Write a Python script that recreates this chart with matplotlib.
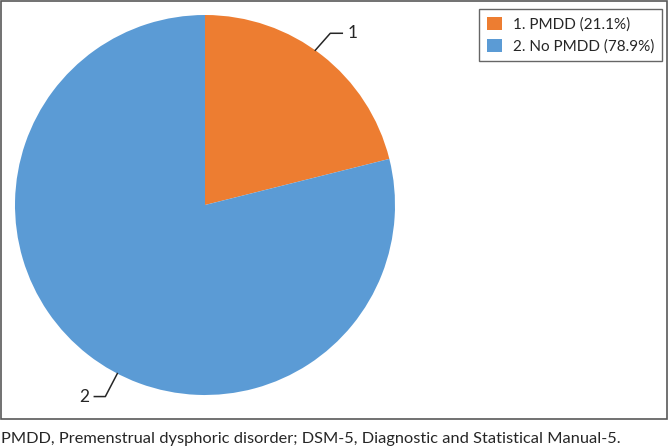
import numpy as np
import matplotlib.pyplot as plt
from matplotlib.patches import Rectangle

plt.rcParams['font.family'] = ['Lato', 'DejaVu Sans']

labels = ["1", "2"]
legend_labels = ["1. PMDD (21.1%)", "2. No PMDD (78.9%)"]
shares = [21.1, 78.9]
colors = ["#ED7D31", "#5B9BD5"]
caption = "PMDD, Premenstrual dysphoric disorder; DSM-5, Diagnostic and Statistical Manual-5."

W, H = 670, 448
fig = plt.figure(figsize=(W / 100, H / 100), dpi=100)
ax = fig.add_axes([0, 0, 1, 1])

# chart frame
ax.add_patch(Rectangle((1, H - 419), 666, 418, fill=False, edgecolor="#595959", lw=1.2))

cx, cy, r = 205, H - 205, 190
wedges, _ = ax.pie(shares, colors=colors, startangle=90, counterclock=False,
                   center=(cx, cy), radius=r, frame=True,
                   wedgeprops=dict(linewidth=0))
ax.set_xlim(0, W)
ax.set_ylim(0, H)
ax.set_aspect("equal")
ax.axis("off")

# leader lines + labels (angle shift from wedge middle, elbow, horizontal tail)
offsets = [(2.5, (15, 17, 12)), (10.5, (-12, -23, -11))]
for w, lab, (dang, (dx, dy, hx)) in zip(wedges, labels, offsets):
    ang = np.deg2rad((w.theta1 + w.theta2) / 2 + dang)
    x0, y0 = cx + r * np.cos(ang), cy + r * np.sin(ang)
    x1, y1 = x0 + dx, y0 + dy
    x2 = x1 + hx
    ax.plot([x0, x1, x2], [y0, y1, y1], color="#262626", lw=1.1)
    ha = "left" if hx > 0 else "right"
    ax.text(x2 + np.sign(hx) * 5, y1, lab, ha=ha, va="center", fontsize=12.5, color="#262626")

leg = ax.legend(wedges, legend_labels, loc="upper right", bbox_to_anchor=(662 / W, 1 - 9 / H),
                bbox_transform=fig.transFigure, frameon=True, fancybox=False,
                fontsize=11, handlelength=1.0, handleheight=1.0, handletextpad=0.7,
                labelspacing=0.45, borderpad=0.5, borderaxespad=0)
leg.get_frame().set_edgecolor("#404040")
leg.get_frame().set_linewidth(1.0)
for t in leg.get_texts():
    t.set_color("#262626")

fig.text(1 / W, 1 - 439 / H, caption, ha="left", va="center", fontsize=11.8, color="#262626")

fig.savefig("out.png", dpi=100)
